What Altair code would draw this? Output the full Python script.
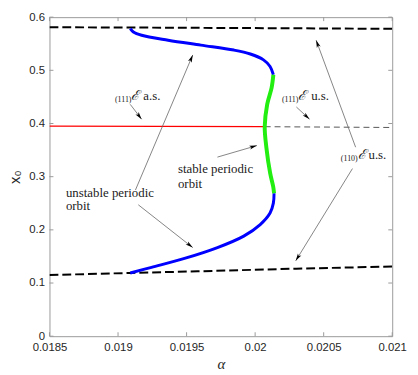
import math
import altair as alt
import pandas as pd

W, H = 347, 323
X_MIN, X_MAX = 0.0185, 0.021
Y_MIN, Y_MAX = 0.0, 0.6
x_ticks = [0.0185, 0.019, 0.0195, 0.02, 0.0205, 0.021]
y_ticks = [0, 0.1, 0.2, 0.3, 0.4, 0.5, 0.6]

# equilibria (110)E : upper & lower branches (unstable, dashed)
top_eq_a = [0.0185, 0.0191, 0.0195, 0.0205, 0.021]
top_eq_x = [0.581, 0.5805, 0.580, 0.5788, 0.578]
bot_eq_a = [0.0185, 0.0191, 0.01958, 0.0203, 0.021]
bot_eq_x = [0.115, 0.119, 0.122, 0.127, 0.131]
# (111)E stable / unstable
red_a = [0.0185, 0.02007]
red_x = [0.395, 0.394]
grey_a = [0.02007, 0.021]
grey_x = [0.394, 0.3925]
# periodic orbit branch
blue_lo_a = [0.019089, 0.019244, 0.019485, 0.019725, 0.019917, 0.020037, 0.020109, 0.020133, 0.020138]
blue_lo_x = [0.1189, 0.1295, 0.1462, 0.1666, 0.1882, 0.2099, 0.2316, 0.2502, 0.2688]
green_a = [0.020138, 0.020132, 0.02011, 0.020082, 0.02007, 0.020088, 0.02012, 0.020133]
green_x = [0.2688, 0.281, 0.306, 0.355, 0.394, 0.436, 0.467, 0.4917]
blue_up_a = [0.020133, 0.020109, 0.020061, 0.019965, 0.019845, 0.019604, 0.019365, 0.019172, 0.019112, 0.019089]
blue_up_x = [0.4917, 0.5071, 0.5196, 0.5307, 0.5381, 0.5474, 0.5567, 0.5660, 0.5721, 0.5783]

# annotation arrows (start -> end)
arr_a1 = [0.019089, 0.019127, 0.019148, 0.019725, 0.020301, 0.020733, 0.020710]
arr_x1 = [0.4360, 0.2749, 0.2471, 0.3368, 0.4310, 0.3554, 0.3152]
arr_a2 = [0.019172, 0.019545, 0.019545, 0.020013, 0.020397, 0.020445, 0.020296]
arr_x2 = [0.4081, 0.5289, 0.1666, 0.3585, 0.4081, 0.5567, 0.1417]

# text labels
sub_text = ["(111)", "(111)", "(110)"]
sub_a = [0.019098, 0.020316, 0.020748]
sub_x = [0.4403, 0.4403, 0.3288]
cal_text = ["ℰ", "ℰ", "ℰ"]
cal_a = [0.019098, 0.020316, 0.020748]
cal_x = [0.4440, 0.4440, 0.3325]
suf_text = ["a.s.", "u.s.", "u.s."]
suf_a = [0.019184, 0.020409, 0.020827]
suf_x = [0.4440, 0.4440, 0.3325]
note_text = ["stable periodic", "orbit", "unstable periodic", "orbit"]
note_a = [0.019437, 0.019437, 0.018620, 0.018620]
note_x = [0.3071, 0.2786, 0.2625, 0.2365]

xs = alt.Scale(domain=[X_MIN, X_MAX], nice=False, zero=False)
ys = alt.Scale(domain=[Y_MIN, Y_MAX], nice=False, zero=False)


def df_line(a, x):
    return pd.DataFrame({"a": a, "x": x, "i": list(range(len(a)))})


X_MAIN = alt.X("a:Q", scale=xs, axis=alt.Axis(
    orient="bottom", values=x_ticks, format="~g", ticks=False, domain=False,
    grid=False, labelPadding=5, labelFlush=False,
    title="α", titleFont="Liberation Serif", titleFontStyle="italic",
    titleFontSize=15, titleFontWeight="normal", titleColor="#262626",
    titleX=W / 2, titleY=28, titleBaseline="middle", titleAlign="center"))
Y_MAIN = alt.Y("x:Q", scale=ys, axis=alt.Axis(
    orient="left", values=y_ticks, format="~g", ticks=False, domain=False,
    grid=False, labelPadding=5, labelFlush=False,
    title="x₀", titleFont="Liberation Sans", titleFontSize=15,
    titleFontWeight="normal", titleColor="#262626",
    titleX=-35, titleY=H / 2, titleBaseline="middle", titleAlign="center"))

X_PLAIN = alt.X("a:Q", scale=xs, axis=None)
Y_PLAIN = alt.Y("x:Q", scale=ys, axis=None)


def line(a, x, **kw):
    return alt.Chart(df_line(a, x)).mark_line(clip=True, **kw).encode(
        x=X_PLAIN, y=Y_PLAIN, order="i:Q")


base = alt.Chart(df_line(red_a, red_x)).mark_line(opacity=0).encode(
    x=X_MAIN, y=Y_MAIN)

# inward tick marks on all four sides (MATLAB box style)
TICK_C = "#9a9a9a"
TL = 4
xt_df = pd.DataFrame({"a": x_ticks})
yt_df = pd.DataFrame({"x": y_ticks})
xt_bot = alt.Chart(xt_df).mark_rule(color=TICK_C, strokeWidth=1).encode(
    x=X_PLAIN, y=alt.value(H), y2=alt.value(H - TL))
xt_top = alt.Chart(xt_df).mark_rule(color=TICK_C, strokeWidth=1).encode(
    x=X_PLAIN, y=alt.value(0), y2=alt.value(TL))
yt_left = alt.Chart(yt_df).mark_rule(color=TICK_C, strokeWidth=1).encode(
    y=Y_PLAIN, x=alt.value(0), x2=alt.value(TL))
yt_right = alt.Chart(yt_df).mark_rule(color=TICK_C, strokeWidth=1).encode(
    y=Y_PLAIN, x=alt.value(W), x2=alt.value(W - TL))

top_eq = line(top_eq_a, top_eq_x, color="black", strokeWidth=2, strokeDash=[9, 4])
bot_eq = line(bot_eq_a, bot_eq_x, color="black", strokeWidth=2, strokeDash=[9, 4])
grey = line(grey_a, grey_x, color="#555555", strokeWidth=1, strokeDash=[6, 4])
red = line(red_a, red_x, color="#ff0000", strokeWidth=1.3)
blue_lo = line(blue_lo_a, blue_lo_x, color="#0000ff", strokeWidth=3, interpolate="catmull-rom")
blue_up = line(blue_up_a, blue_up_x, color="#0000ff", strokeWidth=3, interpolate="catmull-rom")
green = line(green_a, green_x, color="#22ee11", strokeWidth=4, interpolate="catmull-rom")

# arrows
ang = []
for a1, x1, a2, x2 in zip(arr_a1, arr_x1, arr_a2, arr_x2):
    dx = (a2 - a1) / (X_MAX - X_MIN) * W
    dy = -(x2 - x1) / (Y_MAX - Y_MIN) * H
    ang.append(math.degrees(math.atan2(dx, -dy)) % 360)
arr_df = pd.DataFrame({"a": arr_a1, "x": arr_x1, "a2": arr_a2, "x2": arr_x2, "ang": ang})
arr_lines = alt.Chart(arr_df).mark_rule(color="#666666", strokeWidth=0.8).encode(
    x=X_PLAIN, y=Y_PLAIN, x2="a2:Q", y2="x2:Q")
arr_heads = alt.Chart(arr_df).mark_point(
    shape="M0,0 L0.45,1.7 L0,1.3 L-0.45,1.7 Z", filled=True, color="black",
    opacity=1, size=80).encode(
    x=alt.X("a2:Q", scale=xs, axis=None), y=alt.Y("x2:Q", scale=ys, axis=None),
    angle=alt.Angle("ang:Q", scale=None))

SERIF = "Liberation Serif"
sub_df = pd.DataFrame({"a": sub_a, "x": sub_x, "t": sub_text})
cal_df = pd.DataFrame({"a": cal_a, "x": cal_x, "t": cal_text})
suf_df = pd.DataFrame({"a": suf_a, "x": suf_x, "t": suf_text})
note_df = pd.DataFrame({"a": note_a, "x": note_x, "t": note_text})
sub_t = alt.Chart(sub_df).mark_text(align="right", baseline="alphabetic", font=SERIF,
                                    fontSize=8, color="#222222").encode(x=X_PLAIN, y=Y_PLAIN, text="t:N")
cal_t = alt.Chart(cal_df).mark_text(align="left", baseline="alphabetic", font=SERIF,
                                    fontSize=14, fontStyle="italic", color="#222222").encode(x=X_PLAIN, y=Y_PLAIN, text="t:N")
suf_t = alt.Chart(suf_df).mark_text(align="left", baseline="alphabetic", font=SERIF,
                                    fontSize=13, color="#222222").encode(x=X_PLAIN, y=Y_PLAIN, text="t:N")
note_t = alt.Chart(note_df).mark_text(align="left", baseline="alphabetic", font=SERIF,
                                      fontSize=13, color="#222222").encode(x=X_PLAIN, y=Y_PLAIN, text="t:N")

chart = alt.layer(
    base, xt_bot, xt_top, yt_left, yt_right,
    top_eq, bot_eq, grey, red, blue_lo, blue_up, green,
    arr_lines, arr_heads, sub_t, cal_t, suf_t, note_t,
).resolve_axis(x="independent", y="independent").properties(
    width=W, height=H,
    autosize=alt.AutoSizeParams(type="none"),
    padding={"left": 42, "top": 7, "right": 18, "bottom": 35},
).configure_view(stroke="#9a9a9a", strokeWidth=1).configure_axis(
    labelFont="Liberation Sans", labelFontSize=11.5, labelColor="#262626")

chart.save("out.html", embed_options={"renderer": "svg", "actions": False})
